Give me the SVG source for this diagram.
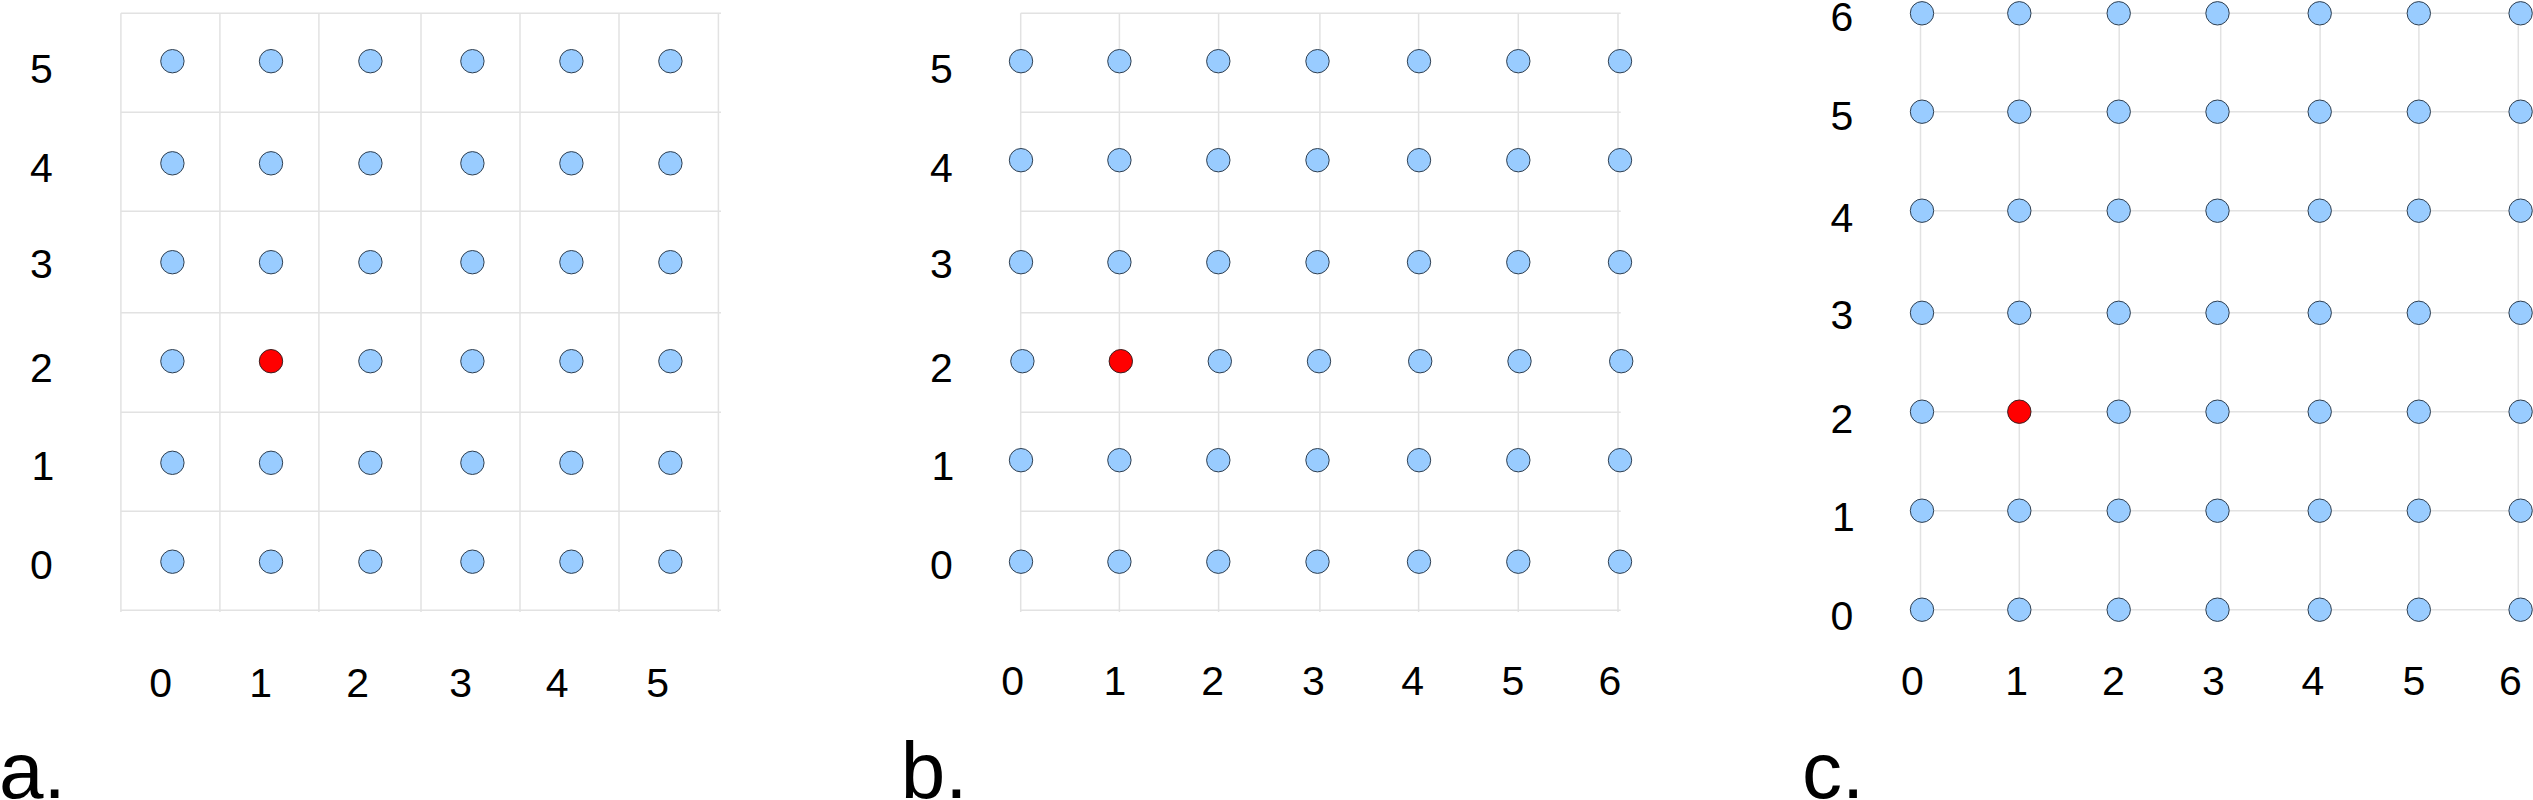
<svg xmlns="http://www.w3.org/2000/svg" width="2533" height="800" viewBox="0 0 2533 800">
<style>
.g{stroke:#e2e2e2;stroke-width:1.5;fill:none}
.n{fill:#99ccff;stroke:#2f3f50;stroke-width:1}
.r{fill:#ff0000;stroke:#3a2020;stroke-width:1}
.t{font-family:"Liberation Sans",Arial,sans-serif;font-size:41px;fill:#000;text-anchor:middle}
.L{font-family:"Liberation Sans",Arial,sans-serif;font-size:80px;fill:#000}
</style>
<rect width="2533" height="800" fill="#fff"/>
<g id="connectors">
<g id="grid-a" class="g">
<path d="M120.9 13.3V612M219.9 13.3V612M318.9 13.3V612M421 13.3V612M520 13.3V612M619 13.3V612M718.4 13.3V612"/>
<path d="M120.9 13.3H721M120.9 112.2H721M120.9 211.2H721M120.9 312.8H721M120.9 412.2H721M120.9 511.2H721M120.9 610.2H721"/>
</g>
<g id="grid-b" class="g">
<path d="M1020.7 13.3V612M1119.4 13.3V612M1218.6 13.3V612M1319.9 13.3V612M1418.6 13.3V612M1518.3 13.3V612M1618 13.3V612"/>
<path d="M1020.7 13.3H1620.7M1020.7 112.2H1620.7M1020.7 211.2H1620.7M1020.7 312.8H1620.7M1020.7 412.2H1620.7M1020.7 511.2H1620.7M1020.7 610.2H1620.7"/>
</g>
<g id="grid-c" class="g">
<path d="M1920.5 13.3V609.7M2019.3 13.3V609.7M2119.2 13.3V609.7M2220.7 13.3V609.7M2320.1 13.3V609.7M2418.9 13.3V609.7M2518.3 13.3V609.7"/>
<path d="M1920.5 13.3H2520.6M1920.5 111.7H2520.6M1920.5 210.7H2520.6M1920.5 312.8H2520.6M1920.5 411.7H2520.6M1920.5 510.7H2520.6M1920.5 609.7H2520.6"/>
</g>
</g>
<g id="panel-a">
<g id="a-0-5"><circle class="n" cx="172.4" cy="61.2" r="11.7"/></g>
<g id="a-1-5"><circle class="n" cx="271" cy="61.2" r="11.7"/></g>
<g id="a-2-5"><circle class="n" cx="370.4" cy="61.2" r="11.7"/></g>
<g id="a-3-5"><circle class="n" cx="472.4" cy="61.2" r="11.7"/></g>
<g id="a-4-5"><circle class="n" cx="571.4" cy="61.2" r="11.7"/></g>
<g id="a-5-5"><circle class="n" cx="670.4" cy="61.2" r="11.7"/></g>
<g id="a-0-4"><circle class="n" cx="172.4" cy="163.3" r="11.7"/></g>
<g id="a-1-4"><circle class="n" cx="271" cy="163.3" r="11.7"/></g>
<g id="a-2-4"><circle class="n" cx="370.4" cy="163.3" r="11.7"/></g>
<g id="a-3-4"><circle class="n" cx="472.4" cy="163.3" r="11.7"/></g>
<g id="a-4-4"><circle class="n" cx="571.4" cy="163.3" r="11.7"/></g>
<g id="a-5-4"><circle class="n" cx="670.4" cy="163.3" r="11.7"/></g>
<g id="a-0-3"><circle class="n" cx="172.4" cy="262.2" r="11.7"/></g>
<g id="a-1-3"><circle class="n" cx="271" cy="262.2" r="11.7"/></g>
<g id="a-2-3"><circle class="n" cx="370.4" cy="262.2" r="11.7"/></g>
<g id="a-3-3"><circle class="n" cx="472.4" cy="262.2" r="11.7"/></g>
<g id="a-4-3"><circle class="n" cx="571.4" cy="262.2" r="11.7"/></g>
<g id="a-5-3"><circle class="n" cx="670.4" cy="262.2" r="11.7"/></g>
<g id="a-0-2"><circle class="n" cx="172.4" cy="361.2" r="11.7"/></g>
<g id="a-1-2"><circle class="r" cx="271" cy="361.2" r="11.7"/></g>
<g id="a-2-2"><circle class="n" cx="370.4" cy="361.2" r="11.7"/></g>
<g id="a-3-2"><circle class="n" cx="472.4" cy="361.2" r="11.7"/></g>
<g id="a-4-2"><circle class="n" cx="571.4" cy="361.2" r="11.7"/></g>
<g id="a-5-2"><circle class="n" cx="670.4" cy="361.2" r="11.7"/></g>
<g id="a-0-1"><circle class="n" cx="172.4" cy="462.8" r="11.7"/></g>
<g id="a-1-1"><circle class="n" cx="271" cy="462.8" r="11.7"/></g>
<g id="a-2-1"><circle class="n" cx="370.4" cy="462.8" r="11.7"/></g>
<g id="a-3-1"><circle class="n" cx="472.4" cy="462.8" r="11.7"/></g>
<g id="a-4-1"><circle class="n" cx="571.4" cy="462.8" r="11.7"/></g>
<g id="a-5-1"><circle class="n" cx="670.4" cy="462.8" r="11.7"/></g>
<g id="a-0-0"><circle class="n" cx="172.4" cy="561.7" r="11.7"/></g>
<g id="a-1-0"><circle class="n" cx="271" cy="561.7" r="11.7"/></g>
<g id="a-2-0"><circle class="n" cx="370.4" cy="561.7" r="11.7"/></g>
<g id="a-3-0"><circle class="n" cx="472.4" cy="561.7" r="11.7"/></g>
<g id="a-4-0"><circle class="n" cx="571.4" cy="561.7" r="11.7"/></g>
<g id="a-5-0"><circle class="n" cx="670.4" cy="561.7" r="11.7"/></g>
<g id="a-labels" class="t">
<text x="41.5" y="82.7">5</text>
<text x="41.5" y="182">4</text>
<text x="41.5" y="278">3</text>
<text x="41.5" y="381.6">2</text>
<text x="43" y="479.6">1</text>
<text x="41.5" y="579">0</text>
<text x="160.7" y="697">0</text>
<text x="260.7" y="697">1</text>
<text x="357.7" y="697">2</text>
<text x="460.7" y="697">3</text>
<text x="557.1" y="697">4</text>
<text x="657.7" y="697">5</text>
</g>
<text class="L" x="-1" y="798">a.</text>
</g>
<g id="panel-b">
<g id="b-0-5"><circle class="n" cx="1021" cy="61.2" r="11.7"/></g>
<g id="b-1-5"><circle class="n" cx="1119.4" cy="61.2" r="11.7"/></g>
<g id="b-2-5"><circle class="n" cx="1218.3" cy="61.2" r="11.7"/></g>
<g id="b-3-5"><circle class="n" cx="1317.5" cy="61.2" r="11.7"/></g>
<g id="b-4-5"><circle class="n" cx="1419" cy="61.2" r="11.7"/></g>
<g id="b-5-5"><circle class="n" cx="1518.3" cy="61.2" r="11.7"/></g>
<g id="b-6-5"><circle class="n" cx="1620" cy="61.2" r="11.7"/></g>
<g id="b-0-4"><circle class="n" cx="1021" cy="160.2" r="11.7"/></g>
<g id="b-1-4"><circle class="n" cx="1119.4" cy="160.2" r="11.7"/></g>
<g id="b-2-4"><circle class="n" cx="1218.3" cy="160.2" r="11.7"/></g>
<g id="b-3-4"><circle class="n" cx="1317.5" cy="160.2" r="11.7"/></g>
<g id="b-4-4"><circle class="n" cx="1419" cy="160.2" r="11.7"/></g>
<g id="b-5-4"><circle class="n" cx="1518.3" cy="160.2" r="11.7"/></g>
<g id="b-6-4"><circle class="n" cx="1620" cy="160.2" r="11.7"/></g>
<g id="b-0-3"><circle class="n" cx="1021" cy="262.2" r="11.7"/></g>
<g id="b-1-3"><circle class="n" cx="1119.4" cy="262.2" r="11.7"/></g>
<g id="b-2-3"><circle class="n" cx="1218.3" cy="262.2" r="11.7"/></g>
<g id="b-3-3"><circle class="n" cx="1317.5" cy="262.2" r="11.7"/></g>
<g id="b-4-3"><circle class="n" cx="1419" cy="262.2" r="11.7"/></g>
<g id="b-5-3"><circle class="n" cx="1518.3" cy="262.2" r="11.7"/></g>
<g id="b-6-3"><circle class="n" cx="1620" cy="262.2" r="11.7"/></g>
<g id="b-0-2"><circle class="n" cx="1022.4" cy="361.2" r="11.7"/></g>
<g id="b-1-2"><circle class="r" cx="1120.8" cy="361.2" r="11.7"/></g>
<g id="b-2-2"><circle class="n" cx="1219.8" cy="361.2" r="11.7"/></g>
<g id="b-3-2"><circle class="n" cx="1319" cy="361.2" r="11.7"/></g>
<g id="b-4-2"><circle class="n" cx="1420.2" cy="361.2" r="11.7"/></g>
<g id="b-5-2"><circle class="n" cx="1519.5" cy="361.2" r="11.7"/></g>
<g id="b-6-2"><circle class="n" cx="1621.2" cy="361.2" r="11.7"/></g>
<g id="b-0-1"><circle class="n" cx="1021" cy="460.2" r="11.7"/></g>
<g id="b-1-1"><circle class="n" cx="1119.4" cy="460.2" r="11.7"/></g>
<g id="b-2-1"><circle class="n" cx="1218.3" cy="460.2" r="11.7"/></g>
<g id="b-3-1"><circle class="n" cx="1317.5" cy="460.2" r="11.7"/></g>
<g id="b-4-1"><circle class="n" cx="1419" cy="460.2" r="11.7"/></g>
<g id="b-5-1"><circle class="n" cx="1518.3" cy="460.2" r="11.7"/></g>
<g id="b-6-1"><circle class="n" cx="1620" cy="460.2" r="11.7"/></g>
<g id="b-0-0"><circle class="n" cx="1021" cy="561.7" r="11.7"/></g>
<g id="b-1-0"><circle class="n" cx="1119.4" cy="561.7" r="11.7"/></g>
<g id="b-2-0"><circle class="n" cx="1218.3" cy="561.7" r="11.7"/></g>
<g id="b-3-0"><circle class="n" cx="1317.5" cy="561.7" r="11.7"/></g>
<g id="b-4-0"><circle class="n" cx="1419" cy="561.7" r="11.7"/></g>
<g id="b-5-0"><circle class="n" cx="1518.3" cy="561.7" r="11.7"/></g>
<g id="b-6-0"><circle class="n" cx="1620" cy="561.7" r="11.7"/></g>
<g id="b-labels" class="t">
<text x="941.5" y="82.7">5</text>
<text x="941.5" y="182">4</text>
<text x="941.5" y="278">3</text>
<text x="941.5" y="381.6">2</text>
<text x="943" y="479.6">1</text>
<text x="941.5" y="579">0</text>
<text x="1012.6" y="695">0</text>
<text x="1114.9" y="695">1</text>
<text x="1212.6" y="695">2</text>
<text x="1313.4" y="695">3</text>
<text x="1412.6" y="695">4</text>
<text x="1513" y="695">5</text>
<text x="1610" y="695">6</text>
</g>
<text class="L" x="900.7" y="798">b.</text>
</g>
<g id="panel-c">
<g id="c-0-6"><circle class="n" cx="1922" cy="13.3" r="11.7"/></g>
<g id="c-1-6"><circle class="n" cx="2019.3" cy="13.3" r="11.7"/></g>
<g id="c-2-6"><circle class="n" cx="2118.7" cy="13.3" r="11.7"/></g>
<g id="c-3-6"><circle class="n" cx="2217.5" cy="13.3" r="11.7"/></g>
<g id="c-4-6"><circle class="n" cx="2319.7" cy="13.3" r="11.7"/></g>
<g id="c-5-6"><circle class="n" cx="2418.8" cy="13.3" r="11.7"/></g>
<g id="c-6-6"><circle class="n" cx="2520.6" cy="13.3" r="11.7"/></g>
<g id="c-0-5"><circle class="n" cx="1922" cy="111.7" r="11.7"/></g>
<g id="c-1-5"><circle class="n" cx="2019.3" cy="111.7" r="11.7"/></g>
<g id="c-2-5"><circle class="n" cx="2118.7" cy="111.7" r="11.7"/></g>
<g id="c-3-5"><circle class="n" cx="2217.5" cy="111.7" r="11.7"/></g>
<g id="c-4-5"><circle class="n" cx="2319.7" cy="111.7" r="11.7"/></g>
<g id="c-5-5"><circle class="n" cx="2418.8" cy="111.7" r="11.7"/></g>
<g id="c-6-5"><circle class="n" cx="2520.6" cy="111.7" r="11.7"/></g>
<g id="c-0-4"><circle class="n" cx="1922" cy="210.7" r="11.7"/></g>
<g id="c-1-4"><circle class="n" cx="2019.3" cy="210.7" r="11.7"/></g>
<g id="c-2-4"><circle class="n" cx="2118.7" cy="210.7" r="11.7"/></g>
<g id="c-3-4"><circle class="n" cx="2217.5" cy="210.7" r="11.7"/></g>
<g id="c-4-4"><circle class="n" cx="2319.7" cy="210.7" r="11.7"/></g>
<g id="c-5-4"><circle class="n" cx="2418.8" cy="210.7" r="11.7"/></g>
<g id="c-6-4"><circle class="n" cx="2520.6" cy="210.7" r="11.7"/></g>
<g id="c-0-3"><circle class="n" cx="1922" cy="312.8" r="11.7"/></g>
<g id="c-1-3"><circle class="n" cx="2019.3" cy="312.8" r="11.7"/></g>
<g id="c-2-3"><circle class="n" cx="2118.7" cy="312.8" r="11.7"/></g>
<g id="c-3-3"><circle class="n" cx="2217.5" cy="312.8" r="11.7"/></g>
<g id="c-4-3"><circle class="n" cx="2319.7" cy="312.8" r="11.7"/></g>
<g id="c-5-3"><circle class="n" cx="2418.8" cy="312.8" r="11.7"/></g>
<g id="c-6-3"><circle class="n" cx="2520.6" cy="312.8" r="11.7"/></g>
<g id="c-0-2"><circle class="n" cx="1922" cy="411.7" r="11.7"/></g>
<g id="c-1-2"><circle class="r" cx="2019.3" cy="411.7" r="11.7"/></g>
<g id="c-2-2"><circle class="n" cx="2118.7" cy="411.7" r="11.7"/></g>
<g id="c-3-2"><circle class="n" cx="2217.5" cy="411.7" r="11.7"/></g>
<g id="c-4-2"><circle class="n" cx="2319.7" cy="411.7" r="11.7"/></g>
<g id="c-5-2"><circle class="n" cx="2418.8" cy="411.7" r="11.7"/></g>
<g id="c-6-2"><circle class="n" cx="2520.6" cy="411.7" r="11.7"/></g>
<g id="c-0-1"><circle class="n" cx="1922" cy="510.7" r="11.7"/></g>
<g id="c-1-1"><circle class="n" cx="2019.3" cy="510.7" r="11.7"/></g>
<g id="c-2-1"><circle class="n" cx="2118.7" cy="510.7" r="11.7"/></g>
<g id="c-3-1"><circle class="n" cx="2217.5" cy="510.7" r="11.7"/></g>
<g id="c-4-1"><circle class="n" cx="2319.7" cy="510.7" r="11.7"/></g>
<g id="c-5-1"><circle class="n" cx="2418.8" cy="510.7" r="11.7"/></g>
<g id="c-6-1"><circle class="n" cx="2520.6" cy="510.7" r="11.7"/></g>
<g id="c-0-0"><circle class="n" cx="1922" cy="609.7" r="11.7"/></g>
<g id="c-1-0"><circle class="n" cx="2019.3" cy="609.7" r="11.7"/></g>
<g id="c-2-0"><circle class="n" cx="2118.7" cy="609.7" r="11.7"/></g>
<g id="c-3-0"><circle class="n" cx="2217.5" cy="609.7" r="11.7"/></g>
<g id="c-4-0"><circle class="n" cx="2319.7" cy="609.7" r="11.7"/></g>
<g id="c-5-0"><circle class="n" cx="2418.8" cy="609.7" r="11.7"/></g>
<g id="c-6-0"><circle class="n" cx="2520.6" cy="609.7" r="11.7"/></g>
<g id="c-labels" class="t">
<text x="1842" y="31">6</text>
<text x="1842" y="130">5</text>
<text x="1842" y="232">4</text>
<text x="1842" y="329">3</text>
<text x="1842" y="432.7">2</text>
<text x="1843.5" y="530.6">1</text>
<text x="1842" y="630">0</text>
<text x="1912.5" y="695">0</text>
<text x="2016.6" y="695">1</text>
<text x="2113.4" y="695">2</text>
<text x="2213.3" y="695">3</text>
<text x="2312.8" y="695">4</text>
<text x="2413.8" y="695">5</text>
<text x="2510.3" y="695">6</text>
</g>
<text class="L" x="1802" y="798">c.</text>
</g>
</svg>
